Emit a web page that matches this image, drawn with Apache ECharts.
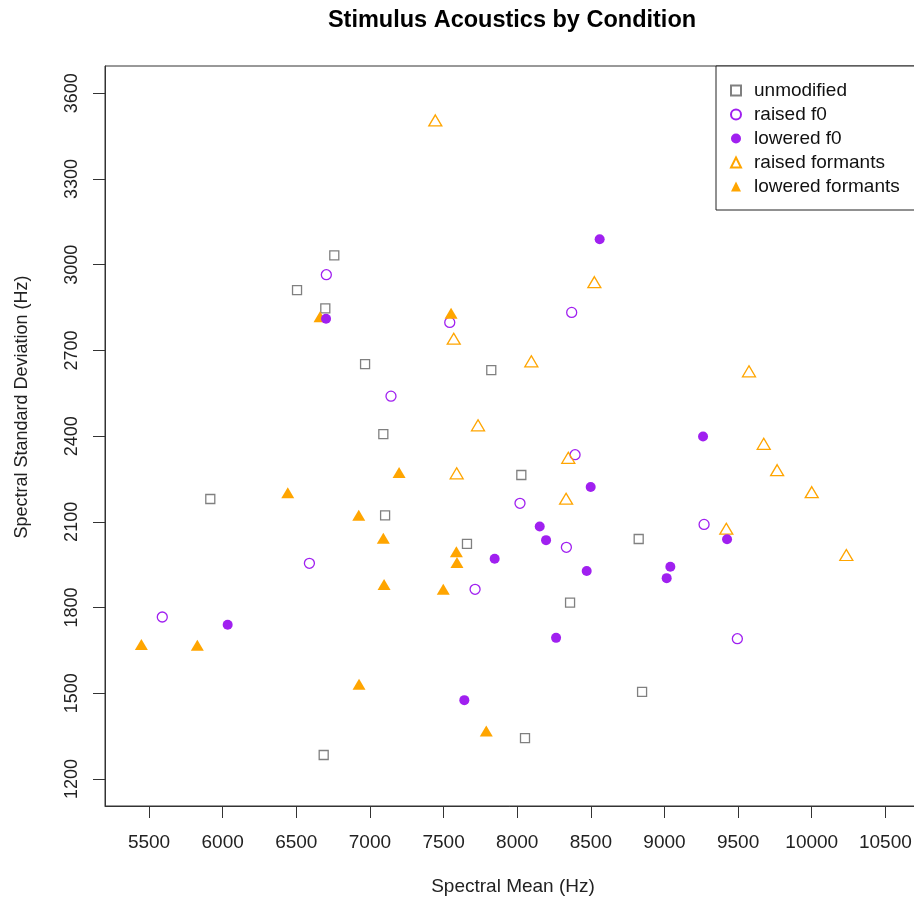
<!DOCTYPE html>
<html>
<head>
<meta charset="utf-8">
<script src="https://cdn.jsdelivr.net/npm/echarts@6/dist/echarts.min.js"></script>
<style>
  html, body { margin: 0; padding: 0; background: #fff; }
  #chart { width: 914px; height: 903px; }
</style>
</head>
<body>
<div id="chart"></div>
<script>
// values
const xTicks = [5500, 6000, 6500, 7000, 7500, 8000, 8500, 9000, 9500, 10000, 10500]
const yTicks = [1200, 1500, 1800, 2100, 2400, 2700, 3000, 3300, 3600]

const unmodX = [6758, 6505, 6697, 6967, 7824, 7091, 8028, 5916, 7103, 7659, 8825, 8359, 8848, 8053, 6686]
const unmodY = [3033, 2911, 2847, 2652, 2631, 2407, 2264, 2180, 2123, 2023, 2040, 1817, 1505, 1343, 1284]

const raisedF0X = [6704, 7542, 8370, 7143, 8393, 8019, 9269, 8334, 6589, 7714, 5590, 9495]
const raisedF0Y = [2965, 2798, 2833, 2540, 2335, 2165, 2091, 2011, 1955, 1864, 1767, 1691]

const loweredF0X = [6702, 8560, 9262, 8499, 8153, 8196, 9425, 7847, 8472, 9040, 9015, 8264, 6034, 7641]
const loweredF0Y = [2811, 3089, 2399, 2222, 2084, 2036, 2039, 1971, 1928, 1943, 1903, 1694, 1740, 1476]

const raisedFmtX = [7444, 8524, 7569, 8096, 9574, 7734, 9674, 8347, 9765, 10000, 7589, 8332, 9420, 10235]
const raisedFmtY = [3505, 2939, 2741, 2662, 2627, 2438, 2373, 2324, 2281, 2204, 2270, 2181, 2076, 1984]

const loweredFmtX = [6661, 7551, 7198, 6442, 6924, 7091, 7587, 7591, 7096, 7498, 5448, 5828, 6926, 7790]
const loweredFmtY = [2818, 2830, 2273, 2202, 2123, 2043, 1995, 1958, 1881, 1864, 1671, 1668, 1532, 1368]

const names = ['unmodified', 'raised f0', 'lowered f0', 'raised formants', 'lowered formants']

const FONT = 'Liberation Sans, Arial, sans-serif'
const GRAY = '#808080'
const PURPLE = '#a020f0'
const ORANGE = '#ffa500'
const NONE = 'rgba(255,255,255,0)'

function pts(xs, ys) {
  return xs.map((x, i) => [x, ys[i]])
}

function series(name, xs, ys, symbol, size, fill, border, z) {
  return {
    name: name,
    type: 'scatter',
    data: pts(xs, ys),
    symbol: symbol,
    symbolSize: size,
    z: z,
    itemStyle: { color: fill, borderColor: border, borderWidth: fill === NONE ? 1.3 : 0, opacity: 1 },
    emphasis: { disabled: true }
  }
}

const plain = v => String(v)

let myChart = echarts.init(document.getElementById('chart'))

myChart.setOption({
  animation: false,
  backgroundColor: '#fff',
  title: {
    text: 'Stimulus Acoustics by Condition',
    left: 507,
    top: 4,
    textAlign: 'center',
    textStyle: { fontFamily: FONT, fontSize: 23.5, fontWeight: 'bold', color: '#000' }
  },
  grid: {
    left: 105, top: 66, width: 816, height: 740,
    outerBoundsMode: 'none',
    containLabel: false,
    show: true, borderColor: '#333', borderWidth: 1, backgroundColor: 'transparent'
  },
  xAxis: {
    type: 'value',
    min: 5201, max: 10742,
    name: 'Spectral Mean (Hz)',
    nameLocation: 'middle',
    nameGap: 71,
    nameTextStyle: { fontFamily: FONT, fontSize: 19, color: '#222' },
    axisLine: { show: true, onZero: false, lineStyle: { color: '#333', width: 1 } },
    axisTick: { show: true, length: 12, customValues: xTicks, lineStyle: { color: '#333' } },
    axisLabel: { customValues: xTicks, formatter: plain, margin: 27, fontFamily: FONT, fontSize: 19, color: '#222' },
    splitLine: { show: false }
  },
  yAxis: {
    type: 'value',
    min: 1105.5, max: 3695.5,
    axisLine: { show: true, onZero: false, lineStyle: { color: '#333', width: 1 } },
    axisTick: { show: true, length: 12, customValues: yTicks, lineStyle: { color: '#333' } },
    axisLabel: { customValues: yTicks, formatter: plain, rotate: 90, margin: 24, fontFamily: FONT, fontSize: 18, color: '#222' },
    splitLine: { show: false }
  },
  graphic: [{
    type: 'text',
    x: 22,
    y: 407,
    rotation: Math.PI / 2,
    style: {
      text: 'Spectral Standard Deviation (Hz)',
      fontFamily: FONT, fontSize: 18, fill: '#222',
      textAlign: 'center', textVerticalAlign: 'middle'
    }
  }],
  legend: {
    data: names,
    orient: 'vertical',
    left: 716,
    top: 66,
    padding: [15, 24, 14, 14],
    itemWidth: 10,
    itemHeight: 10,
    itemGap: 5,
    backgroundColor: '#fff',
    borderColor: '#222',
    borderWidth: 1,
    borderRadius: 0,
    selectedMode: false,
    textStyle: { fontFamily: FONT, fontSize: 19, color: '#111', padding: [0, 0, 0, 8] },
    z: 10
  },
  series: [
    series(names[0], unmodX, unmodY, 'rect', 9, NONE, GRAY, 2),
    series(names[1], raisedF0X, raisedF0Y, 'circle', 10, NONE, PURPLE, 2),
    series(names[2], loweredF0X, loweredF0Y, 'circle', 10, PURPLE, PURPLE, 3),
    series(names[3], raisedFmtX, raisedFmtY, 'triangle', [13, 11], NONE, ORANGE, 2),
    series(names[4], loweredFmtX, loweredFmtY, 'triangle', [13, 11], ORANGE, ORANGE, 2)
  ]
})

window.onresize = () => {
  myChart.resize()
}
</script>
</body>
</html>
